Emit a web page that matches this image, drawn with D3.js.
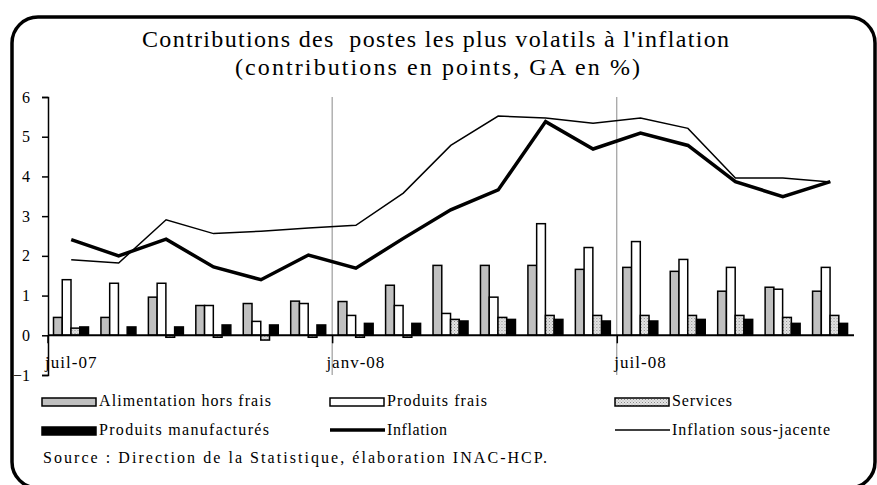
<!DOCTYPE html>
<html>
<head>
<meta charset="utf-8">
<script src="https://cdn.jsdelivr.net/npm/d3@7"></script>
<style>
  body { margin: 0; background: #fff; }
  svg text { fill: #000; white-space: pre; }
</style>
</head>
<body>
<div id="chart"></div>
<script>
const months = [
  "juil-07", "août-07", "sept-07", "oct-07", "nov-07", "déc-07",
  "janv-08", "févr-08", "mars-08", "avr-08", "mai-08", "juin-08",
  "juil-08", "août-08", "sept-08", "oct-08", "nov-08",
];
const tickMonths = ["juil-07", "janv-08", "juil-08"];
const yTicks = [-1, 0, 1, 2, 3, 4, 5, 6];

const alimentation = [0.45, 0.45, 0.96, 0.75, 0.8, 0.86, 0.85, 1.26, 1.76, 1.76, 1.76, 1.66, 1.71, 1.61, 1.11, 1.21, 1.11];
const produitsFrais = [1.4, 1.31, 1.31, 0.75, 0.35, 0.8, 0.5, 0.75, 0.55, 0.96, 2.81, 2.21, 2.36, 1.91, 1.71, 1.16, 1.71];
const services = [0.18, 0, -0.05, -0.05, -0.12, -0.05, -0.05, -0.05, 0.4, 0.45, 0.5, 0.5, 0.5, 0.5, 0.5, 0.45, 0.5];
const manufactures = [0.21, 0.21, 0.21, 0.26, 0.26, 0.26, 0.3, 0.3, 0.36, 0.4, 0.4, 0.36, 0.36, 0.4, 0.4, 0.3, 0.3];
const inflation = [2.41, 2.0, 2.42, 1.72, 1.4, 2.02, 1.69, 2.44, 3.16, 3.66, 5.38, 4.69, 5.09, 4.78, 3.87, 3.49, 3.87];
const sousJacente = [1.9, 1.82, 2.91, 2.56, 2.62, 2.7, 2.77, 3.58, 4.78, 5.52, 5.47, 5.34, 5.47, 5.21, 3.96, 3.96, 3.86];

const barSeries = [
  { key: "Alimentation hors frais", values: alimentation, fill: "#c0c0c0" },
  { key: "Produits frais", values: produitsFrais, fill: "#fff" },
  { key: "Services", values: services, fill: "url(#dots)" },
  { key: "Produits manufacturés", values: manufactures, fill: "#000" },
];
const lineSeries = [
  { key: "Inflation", values: inflation, width: 3.5 },
  { key: "Inflation sous-jacente", values: sousJacente, width: 1.5 },
];

const W = 877, H = 485;
const FONT = "Liberation Serif";

const svg = d3
  .select("#chart")
  .append("svg")
  .attr("width", W)
  .attr("height", H)
  .style("font-family", FONT);

// speckled fill for services
const pat = svg
  .append("defs")
  .append("pattern")
  .attr("id", "dots")
  .attr("width", 3)
  .attr("height", 3)
  .attr("patternUnits", "userSpaceOnUse");
pat.append("rect").attr("width", 3).attr("height", 3).attr("fill", "#e4e4e4");
pat.append("rect").attr("width", 1).attr("height", 1).attr("fill", "#8c8c8c");
pat.append("rect").attr("x", 1.5).attr("y", 1.5).attr("width", 1).attr("height", 1).attr("fill", "#a8a8a8");

// outer frame
svg
  .append("rect")
  .attr("x", 12)
  .attr("y", 17)
  .attr("width", 863)
  .attr("height", 471)
  .attr("rx", 26)
  .attr("fill", "none")
  .attr("stroke", "#000")
  .attr("stroke-width", 3.5);

// title
svg
  .append("text")
  .attr("x", 435.5)
  .attr("y", 47)
  .attr("text-anchor", "middle")
  .style("font-family", FONT)
  .attr("font-size", 24)
  .attr("textLength", 587)
  .attr("lengthAdjust", "spacing")
  .text("Contributions des  postes les plus volatils à l'inflation");
svg
  .append("text")
  .attr("x", 437.5)
  .attr("y", 75)
  .attr("text-anchor", "middle")
  .style("font-family", FONT)
  .attr("font-size", 24)
  .attr("textLength", 405)
  .attr("lengthAdjust", "spacing")
  .text("(contributions en points, GA en %)");

const x0 = d3.scaleBand().domain(months).range([47.5, 854]);
const x1 = d3
  .scaleBand()
  .domain(barSeries.map((s) => s.key))
  .range([6, 41]);
const y = d3.scaleLinear().domain([-1, 6]).range([375, 97]);

// vertical grid at january / july
svg
  .append("g")
  .selectAll("line")
  .data(tickMonths.slice(1))
  .join("line")
  .attr("x1", (d) => x0(d))
  .attr("x2", (d) => x0(d))
  .attr("y1", y(6))
  .attr("y2", y(-1))
  .attr("stroke", "#8a8a8a")
  .attr("stroke-width", 1);

// bars
const groups = svg
  .append("g")
  .selectAll("g")
  .data(months)
  .join("g")
  .attr("transform", (d) => `translate(${x0(d)},0)`);

groups
  .selectAll("rect")
  .data((d, i) => barSeries.map((s) => ({ key: s.key, fill: s.fill, v: s.values[i] })))
  .join("rect")
  .filter((d) => d.v !== 0)
  .attr("x", (d) => x1(d.key))
  .attr("width", x1.bandwidth())
  .attr("y", (d) => y(Math.max(0, d.v)))
  .attr("height", (d) => Math.abs(y(d.v) - y(0)))
  .attr("fill", (d) => d.fill)
  .attr("stroke", "#000")
  .attr("stroke-width", 1.5);

// y axis
const yAxis = svg
  .append("g")
  .attr("transform", "translate(48,0)")
  .call(d3.axisLeft(y).tickValues(yTicks).tickSize(6).tickPadding(12).tickFormat(d3.format("d")));
yAxis.attr("font-family", null).attr("font-size", 16);
yAxis.selectAll("text").style("font-family", FONT);
yAxis.select(".domain").attr("stroke-width", 1.5);
yAxis.selectAll(".tick line").attr("stroke-width", 1.5);

// x axis at zero
svg
  .append("line")
  .attr("x1", 48)
  .attr("x2", 854)
  .attr("y1", y(0))
  .attr("y2", y(0))
  .attr("stroke", "#000")
  .attr("stroke-width", 2);

const xTicks = svg.append("g").selectAll("g").data(tickMonths).join("g");
xTicks
  .append("line")
  .attr("x1", (d) => x0(d) + 0.5)
  .attr("x2", (d) => x0(d) + 0.5)
  .attr("y1", y(0))
  .attr("y2", y(0) + 8)
  .attr("stroke", "#000")
  .attr("stroke-width", 1.5);
xTicks
  .append("text")
  .attr("x", (d) => x0(d) + x0.bandwidth() / 2)
  .attr("y", 368)
  .attr("text-anchor", "middle")
  .style("font-family", FONT)
  .attr("font-size", 17)
  .attr("letter-spacing", 1)
  .text((d) => d);

// lines
const line = d3
  .line()
  .x((d, i) => x0(months[i]) + x0.bandwidth() / 2)
  .y((d) => y(d));

svg
  .append("g")
  .selectAll("path")
  .data(lineSeries)
  .join("path")
  .attr("d", (d) => line(d.values))
  .attr("fill", "none")
  .attr("stroke", "#000")
  .attr("stroke-width", (d) => d.width)
  .attr("stroke-linejoin", "miter");

// legend
const legendItems = [
  { label: "Alimentation hors frais", type: "bar", fill: "#c0c0c0", x: 42, y: 406, w: 172 },
  { label: "Produits frais", type: "bar", fill: "#fff", x: 330, y: 406, w: 100 },
  { label: "Services", type: "bar", fill: "url(#dots)", x: 615, y: 406, w: 60 },
  { label: "Produits manufacturés", type: "bar", fill: "#000", x: 42, y: 435, w: 170 },
  { label: "Inflation", type: "line", width: 3.5, x: 330, y: 435, w: 60 },
  { label: "Inflation sous-jacente", type: "line", width: 1.5, x: 615, y: 435, w: 158 },
];

const legend = svg.append("g").selectAll("g").data(legendItems).join("g");
legend
  .filter((d) => d.type === "bar")
  .append("rect")
  .attr("x", (d) => d.x)
  .attr("y", (d) => d.y - 8)
  .attr("width", 54)
  .attr("height", 8)
  .attr("fill", (d) => d.fill)
  .attr("stroke", "#000")
  .attr("stroke-width", 1.5);
legend
  .filter((d) => d.type === "line")
  .append("line")
  .attr("x1", (d) => d.x)
  .attr("x2", (d) => d.x + 55)
  .attr("y1", (d) => d.y - 5)
  .attr("y2", (d) => d.y - 5)
  .attr("stroke", "#000")
  .attr("stroke-width", (d) => d.width);
legend
  .append("text")
  .attr("x", (d) => d.x + 57)
  .attr("y", (d) => d.y)
  .style("font-family", FONT)
  .attr("font-size", 16)
  .attr("textLength", (d) => d.w)
  .attr("lengthAdjust", "spacing")
  .text((d) => d.label);

svg
  .append("text")
  .attr("x", 43)
  .attr("y", 463)
  .style("font-family", FONT)
  .attr("font-size", 16)
  .attr("textLength", 504)
  .attr("lengthAdjust", "spacing")
  .text("Source : Direction de la Statistique, élaboration INAC-HCP.");
</script>
</body>
</html>
